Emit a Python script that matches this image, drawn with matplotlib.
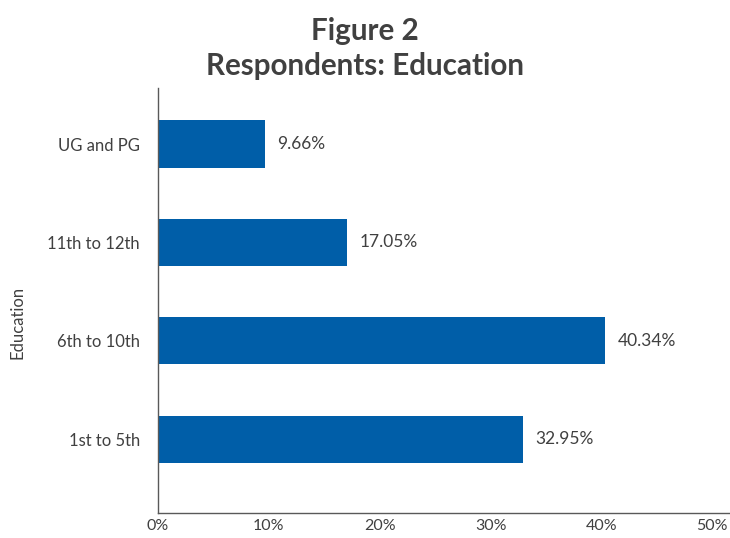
import matplotlib.pyplot as plt
from matplotlib.ticker import FuncFormatter

plt.rcParams['font.family'] = ['Lato', 'DejaVu Sans']

# education level shares of respondents (%)
categories = ["1st to 5th", "6th to 10th", "11th to 12th", "UG and PG"]
shares = [32.95, 40.34, 17.05, 9.66]
x_ticks = [0, 10, 20, 30, 40, 50]

BAR_COLOR = "#005EA8"
TEXT_COLOR = "#404040"

fig = plt.figure(figsize=(7.3, 5.38), dpi=100)
ax = fig.add_axes([0.2164, 0.0465, 0.7836, 0.7899])

ypos = range(len(categories))
ax.barh(ypos, shares, height=0.48, color=BAR_COLOR)

# value labels to the right of each bar
for y, v in zip(ypos, shares):
    ax.annotate(f"{v:.2f}%", (v, y), xytext=(9, 0), textcoords="offset points",
                va="center", ha="left", fontsize=12.5, color=TEXT_COLOR)

ax.set_yticks(list(ypos))
ax.set_yticklabels(categories, fontsize=12, color=TEXT_COLOR)
ax.set_xticks(x_ticks)
ax.xaxis.set_major_formatter(FuncFormatter(lambda x, pos: f"{int(x)}%"))
ax.tick_params(axis="x", labelsize=11.5, labelcolor=TEXT_COLOR, length=0, pad=4)
ax.tick_params(axis="y", length=0, pad=13)

ax.set_xlim(0, 51.6)
ax.set_ylim(-0.75, 3.57)

for side in ("top", "right"):
    ax.spines[side].set_visible(False)
for side in ("left", "bottom"):
    ax.spines[side].set_color("#595959")
    ax.spines[side].set_linewidth(1.0)

fig.text(18 / 730, 1 - 322 / 538, "Education", rotation=90, ha="center", va="center",
         fontsize=12, color=TEXT_COLOR)
fig.text(0.5, 1 - 31 / 538, "Figure 2", ha="center", va="center",
         fontsize=21.3, fontweight="bold", color=TEXT_COLOR)
fig.text(0.5, 1 - 66 / 538, "Respondents: Education", ha="center", va="center",
         fontsize=21.3, fontweight="bold", color=TEXT_COLOR)

fig.savefig("out.png", dpi=100)
